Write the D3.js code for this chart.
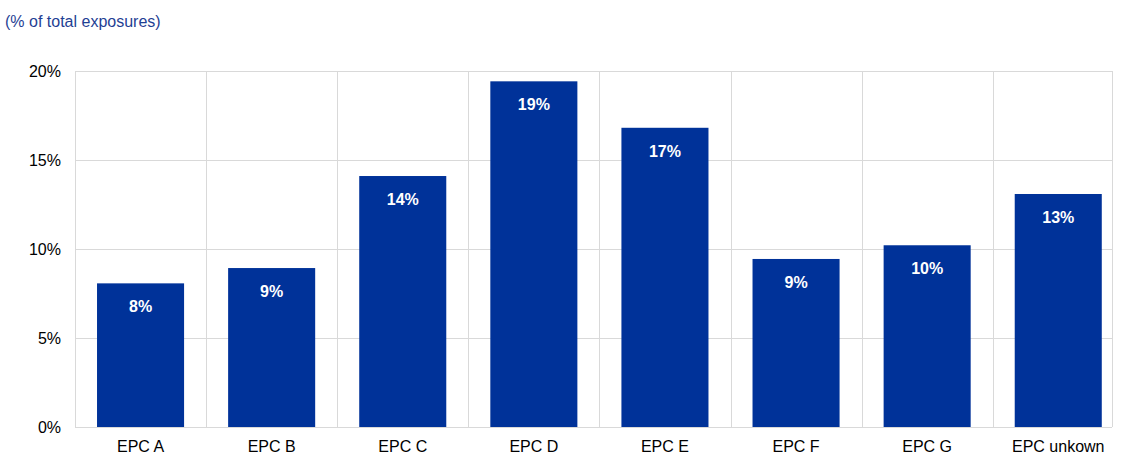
<!DOCTYPE html>
<html>
<head>
<meta charset="utf-8">
<script src="https://cdn.jsdelivr.net/npm/d3@7"></script>
<style>
  body { margin: 0; background: #fff; }
  svg { display: block; font-family: "Liberation Sans", Arial, sans-serif; }
</style>
</head>
<body>
<div id="chart"></div>
<script>
// chart data
const categories = ["EPC A", "EPC B", "EPC C", "EPC D", "EPC E", "EPC F", "EPC G", "EPC unkown"];
const shares = [8.07, 8.93, 14.1, 19.42, 16.81, 9.44, 10.21, 13.09];
const yTicks = [0, 5, 10, 15, 20];

const width = 1123;
const height = 468;
const margin = {left: 75, right: 11, top: 71, bottom: 41};
const bandStep = 131.1; // last category runs past the plot's right edge

const svg = d3.select("#chart")
  .append("svg")
  .attr("width", width)
  .attr("height", height);

const x = d3.scaleBand()
  .domain(categories)
  .range([margin.left, margin.left + bandStep * categories.length])
  .paddingInner(0.336)
  .paddingOuter(0.168);

const y = d3.scaleLinear()
  .domain([0, 20])
  .range([height - margin.bottom, margin.top]);

// title
svg.append("text")
  .attr("x", 5)
  .attr("y", 27)
  .attr("fill", "#1f3f94")
  .attr("font-size", 16)
  .text("(% of total exposures)");

// horizontal gridlines
svg.append("g")
  .selectAll("line")
  .data(yTicks)
  .join("line")
    .attr("x1", margin.left)
    .attr("x2", width - margin.right)
    .attr("y1", d => Math.round(y(d)) + 0.5)
    .attr("y2", d => Math.round(y(d)) + 0.5)
    .attr("stroke", "#d9d9d9");

// vertical separators between categories
const edges = categories.map(c => x(c) - x.step() * x.paddingOuter());
edges.push(width - margin.right);
svg.append("g")
  .selectAll("line")
  .data(edges)
  .join("line")
    .attr("x1", d => Math.round(d) + 0.5)
    .attr("x2", d => Math.round(d) + 0.5)
    .attr("y1", y(20))
    .attr("y2", y(0))
    .attr("stroke", "#d9d9d9");

// y axis labels
const yAxis = svg.append("g")
  .attr("transform", `translate(${margin.left},0)`)
  .call(d3.axisLeft(y).tickValues(yTicks).tickSize(0).tickPadding(14).tickFormat(d => d + "%"));
yAxis.select(".domain").remove();
yAxis.selectAll("text").attr("font-size", 16).attr("fill", "#000")
  .attr("font-family", "Liberation Sans, Arial, sans-serif");

// x axis labels
const xAxis = svg.append("g")
  .attr("transform", `translate(0,${height - margin.bottom})`)
  .call(d3.axisBottom(x).tickSize(0).tickPadding(14));
xAxis.select(".domain").remove();
xAxis.selectAll("text").attr("font-size", 16).attr("fill", "#000")
  .attr("font-family", "Liberation Sans, Arial, sans-serif");

// bars
svg.append("g")
  .selectAll("rect")
  .data(shares)
  .join("rect")
    .attr("x", (d, i) => x(categories[i]))
    .attr("y", d => y(d))
    .attr("width", x.bandwidth())
    .attr("height", d => y(0) - y(d))
    .attr("fill", "#003299");

// value labels
svg.append("g")
  .selectAll("text")
  .data(shares)
  .join("text")
    .attr("x", (d, i) => x(categories[i]) + x.bandwidth() / 2)
    .attr("y", d => y(d) + 29)
    .attr("text-anchor", "middle")
    .attr("fill", "#fff")
    .attr("font-weight", "bold")
    .attr("font-size", 16)
    .text(d => Math.round(d) + "%");
</script>
</body>
</html>
